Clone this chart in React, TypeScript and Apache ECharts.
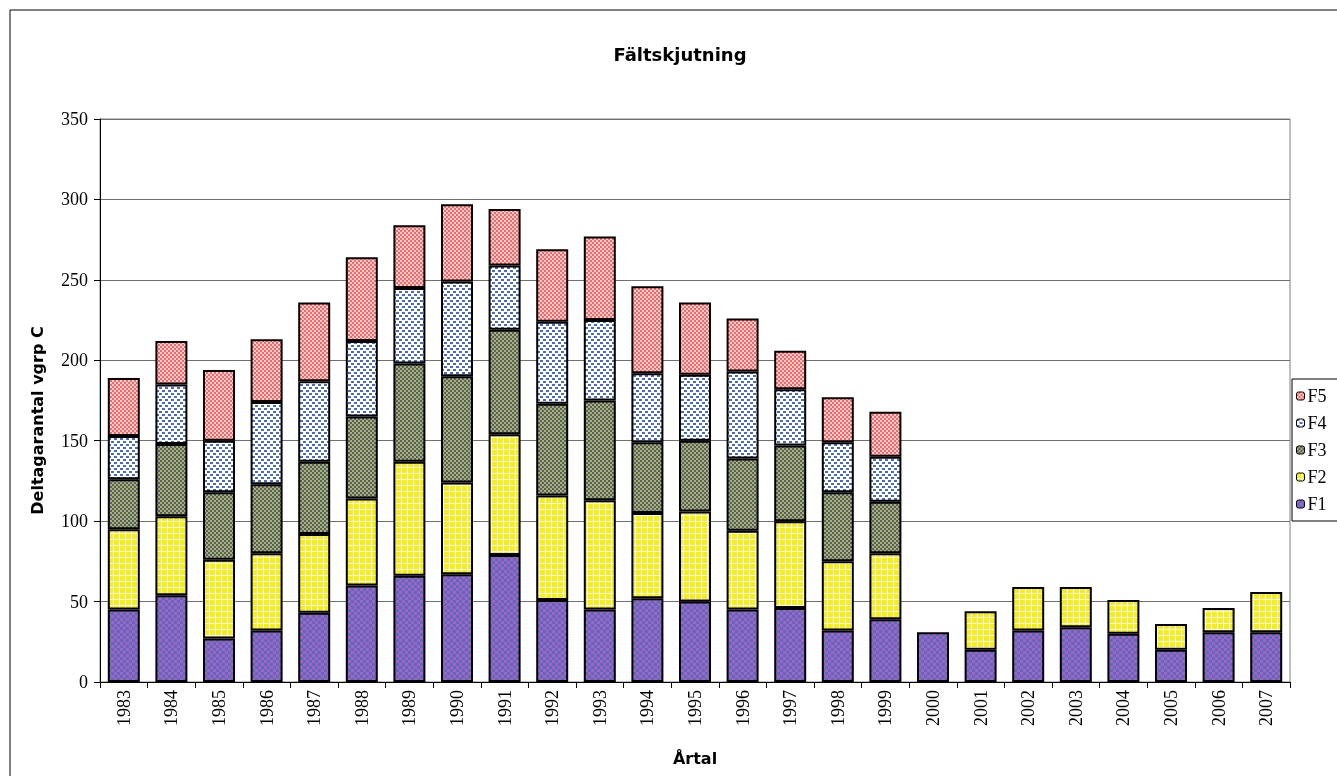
import React, { useEffect, useRef } from "react";
import * as echarts from "echarts";

const years = ["1983","1984","1985","1986","1987","1988","1989","1990","1991","1992","1993","1994","1995","1996","1997","1998","1999","2000","2001","2002","2003","2004","2005","2006","2007"];
const f1 = [45,54,27,32,43,60,66,67,79,51,45,52,50,45,46,32,39,31,20,32,34,30,20,31,31];
const f2 = [50,49,49,48,49,54,71,57,75,65,68,53,56,49,54,43,41,null,24,27,25,21,16,15,25];
const f3 = [31,45,42,43,45,51,61,66,65,57,62,44,44,45,47,43,32,null,null,null,null,null,null,null,null];
const f4 = [27,37,32,51,50,47,47,59,40,51,50,43,41,54,35,31,28,null,null,null,null,null,null,null,null];
const f5 = [36,27,44,39,49,52,39,48,35,45,52,54,45,33,24,28,28,null,null,null,null,null,null,null,null];
const yTicks = { min: 0, max: 350, interval: 50 };

function pat(w: number, h: number, bg: string, fg: string, rects: number[][]) {
  const c = document.createElement("canvas");
  c.width = w; c.height = h;
  const ctx = c.getContext("2d")!;
  ctx.fillStyle = bg; ctx.fillRect(0, 0, w, h);
  ctx.fillStyle = fg;
  rects.forEach(r => ctx.fillRect(r[0], r[1], r[2], r[3]));
  return { image: c, repeat: "repeat" } as any;
}

export default function App() {
  const ref = useRef<HTMLDivElement>(null);
  useEffect(() => {
    const chart = echarts.init(ref.current!, null, { renderer: "svg" });
    const p1 = pat(6, 6, "#3a78cc", "#c455b4", [[0,0,3,3],[3,3,3,3]]);
    const p2 = pat(6, 6, "#ffffff", "#f7ee14", [[0,0,5,5]]);
    const p3 = pat(4, 4, "#b4b82a", "#4a5aa8", [[0,0,2,2],[2,2,2,2]]);
    const p4 = pat(6, 6, "#ffffff", "#4a6ac8", [[0,0,3,2],[3,3,3,2]]);
    const p5 = pat(4, 4, "#ff6464", "#ffd2d2", [[0,0,2,2],[2,2,2,2]]);
    const mk = (name: string, data: any[], color: any) => ({
      name, type: "bar", stack: "s", data, barWidth: 32,
      itemStyle: { color, borderColor: "#000", borderWidth: 2 },
    });
    chart.setOption({
      animation: false,
      title: {
        text: "Fältskjutning", left: 675, top: 40, textAlign: "center",
        textStyle: { fontFamily: "DejaVu Sans", fontWeight: "bold", fontSize: 18, color: "#000" },
      },
      graphic: [
        { type: "rect", shape: { x: 10, y: 10, width: 1400, height: 800 }, style: { fill: "none", stroke: "#000", lineWidth: 1 } },
      ],
      legend: {
        orient: "vertical", left: 1292, top: 379,
        data: ["F5","F4","F3","F2","F1"],
        itemWidth: 8, itemHeight: 8, itemGap: 9,
        padding: [8, 20, 8, 4],
        borderColor: "#000", borderWidth: 1, backgroundColor: "#fff",
        textStyle: { fontFamily: "Liberation Serif", fontSize: 18, color: "#000", padding: [0,0,0,-2] },
        itemStyle: { borderColor: "#000", borderWidth: 1 },
      },
      grid: { left: 100, right: 47, top: 119, bottom: 94, show: true, borderColor: "#808080", borderWidth: 1 },
      xAxis: {
        type: "category", data: years,
        name: "Årtal", nameLocation: "middle", nameGap: 68,
        nameTextStyle: { fontFamily: "DejaVu Sans", fontWeight: "bold", fontSize: 16, color: "#000" },
        axisLine: { lineStyle: { color: "#000", width: 1 } },
        axisTick: { show: true, length: 6, lineStyle: { color: "#000" } },
        axisLabel: { rotate: 90, fontFamily: "Liberation Serif", fontSize: 18, color: "#000", margin: 8 },
      },
      yAxis: {
        type: "value", min: yTicks.min, max: yTicks.max, interval: yTicks.interval,
        name: "Deltagarantal vgrp C", nameLocation: "middle", nameGap: 55,
        nameTextStyle: { fontFamily: "DejaVu Sans", fontWeight: "bold", fontSize: 16, color: "#000", padding: [0, 40, 0, 0] },
        axisLine: { show: true, lineStyle: { color: "#000", width: 1 } },
        axisTick: { show: true, length: 6, lineStyle: { color: "#000" } },
        axisLabel: { fontFamily: "Liberation Serif", fontSize: 18, color: "#000", margin: 12 },
        splitLine: { lineStyle: { color: "#707070", width: 1 } },
      },
      series: [mk("F1", f1, p1), mk("F2", f2, p2), mk("F3", f3, p3), mk("F4", f4, p4), mk("F5", f5, p5)],
    });
    return () => chart.dispose();
  }, []);
  return <div ref={ref} style={{ position: "fixed", left: 0, top: 0, width: 1337, height: 776 }} />;
}
